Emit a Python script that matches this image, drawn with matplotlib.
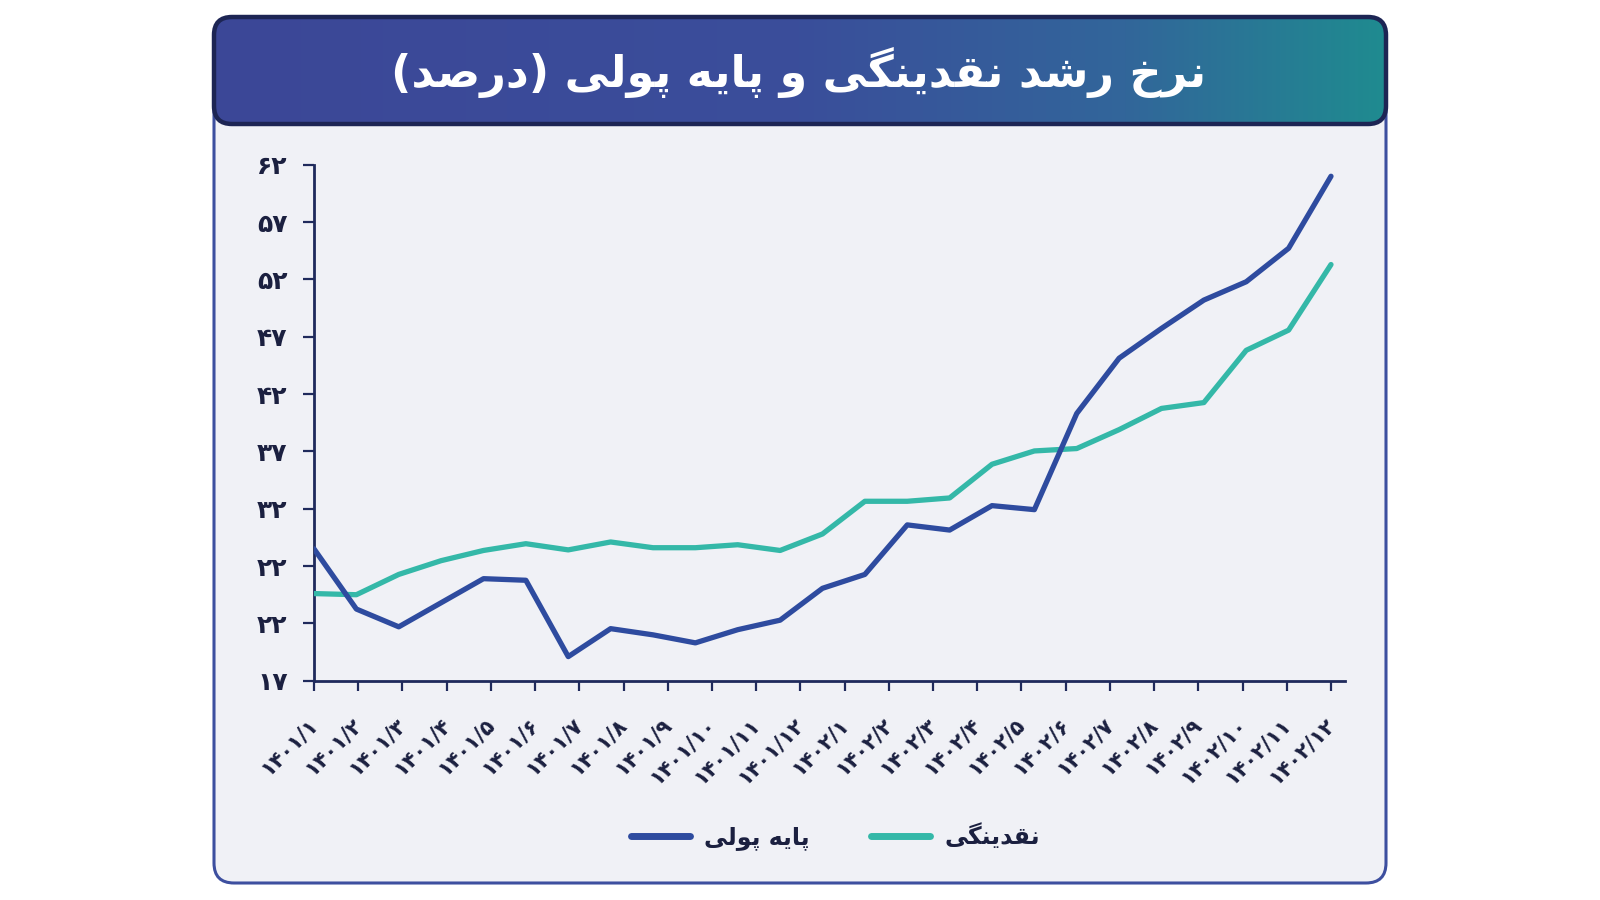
import matplotlib
matplotlib.use("Agg")
import matplotlib.pyplot as plt
import numpy as np
from matplotlib.patches import FancyBboxPatch
from matplotlib.lines import Line2D
from matplotlib.colors import LinearSegmentedColormap
from matplotlib.transforms import ScaledTranslation

# ---------------- data ----------------
title_text = "نرخ رشد نقدینگی و پایه پولی (درصد)"
series_names = ["پایه پولی", "نقدینگی"]

month_labels = [
    "۱۴۰۱/۱", "۱۴۰۱/۲", "۱۴۰۱/۳", "۱۴۰۱/۴", "۱۴۰۱/۵", "۱۴۰۱/۶",
    "۱۴۰۱/۷", "۱۴۰۱/۸", "۱۴۰۱/۹", "۱۴۰۱/۱۰", "۱۴۰۱/۱۱", "۱۴۰۱/۱۲",
    "۱۴۰۲/۱", "۱۴۰۲/۲", "۱۴۰۲/۳", "۱۴۰۲/۴", "۱۴۰۲/۵", "۱۴۰۲/۶",
    "۱۴۰۲/۷", "۱۴۰۲/۸", "۱۴۰۲/۹", "۱۴۰۲/۱۰", "۱۴۰۲/۱۱", "۱۴۰۲/۱۲",
]

money_base = [28.5, 23.25, 21.7, 23.8, 25.9, 25.76, 19.1, 21.54, 21.0, 20.3,
              21.45, 22.28, 25.06, 26.27, 30.59, 30.14, 32.27, 31.92, 40.31,
              45.13, 47.73, 50.2, 51.8, 54.72, 61.0]
liquidity = [24.6, 24.5, 26.27, 27.47, 28.36, 28.95, 28.41, 29.1, 28.6, 28.6,
             28.86, 28.36, 29.8, 32.65, 32.65, 32.94, 35.88, 37.04, 37.25,
             38.9, 40.75, 41.26, 45.82, 47.58, 53.3]

y_ticks = [17, 22, 27, 32, 37, 42, 47, 52, 57, 62]
y_tick_labels = ["۱۷", "۲۲", "۲۲", "۳۲", "۳۷", "۴۲", "۴۷", "۵۲", "۵۷", "۶۲"]

# ---------------- minimal Persian shaping ----------------
FORMS = {
    "ا": ("\uFE8D", "\uFE8E"), "د": ("\uFEA9", "\uFEAA"), "ر": ("\uFEAD", "\uFEAE"),
    "و": ("\uFEED", "\uFEEE"),
    "ب": ("\uFE8F", "\uFE90", "\uFE91", "\uFE92"),
    "پ": ("\uFB56", "\uFB57", "\uFB58", "\uFB59"),
    "ت": ("\uFE95", "\uFE96", "\uFE97", "\uFE98"),
    "خ": ("\uFEA5", "\uFEA6", "\uFEA7", "\uFEA8"),
    "ش": ("\uFEB5", "\uFEB6", "\uFEB7", "\uFEB8"),
    "ص": ("\uFEB9", "\uFEBA", "\uFEBB", "\uFEBC"),
    "ق": ("\uFED5", "\uFED6", "\uFED7", "\uFED8"),
    "گ": ("\uFB92", "\uFB93", "\uFB94", "\uFB95"),
    "ل": ("\uFEDD", "\uFEDE", "\uFEDF", "\uFEE0"),
    "م": ("\uFEE1", "\uFEE2", "\uFEE3", "\uFEE4"),
    "ن": ("\uFEE5", "\uFEE6", "\uFEE7", "\uFEE8"),
    "ه": ("\uFEE9", "\uFEEA", "\uFEEB", "\uFEEC"),
    "ی": ("\uFBFC", "\uFBFD", "\uFBFE", "\uFBFF"),
}


def shape(text):
    out = []
    n = len(text)
    for i, c in enumerate(text):
        if c not in FORMS:
            out.append(c)
            continue
        f = FORMS[c]
        prev = text[i - 1] if i > 0 else None
        nxt = text[i + 1] if i + 1 < n else None
        jp = prev in FORMS and len(FORMS[prev]) == 4
        jn = nxt in FORMS and len(f) == 4
        if len(f) == 2:
            out.append(f[1] if jp else f[0])
        elif jp and jn:
            out.append(f[3])
        elif jp:
            out.append(f[1])
        elif jn:
            out.append(f[2])
        else:
            out.append(f[0])
    vis = "".join(reversed(out))
    return vis.translate(str.maketrans({"(": ")", ")": "("}))


plt.rcParams["font.family"] = ["DejaVu Sans"]

W, H = 1600, 900
fig = plt.figure(figsize=(16, 9), dpi=100)
fig.patch.set_facecolor("white")

# ---------------- background card ----------------
bg = fig.add_axes([0, 0, 1, 1])
bg.set_xlim(0, W)
bg.set_ylim(H, 0)
bg.axis("off")

card = FancyBboxPatch((214, 17), 1172, 866,
                      boxstyle="round,pad=0,rounding_size=20",
                      facecolor="#f0f1f6", edgecolor="#3d4f9f", lw=2.2)
bg.add_patch(card)

tb = FancyBboxPatch((214, 17), 1172, 107,
                    boxstyle="round,pad=0,rounding_size=18",
                    facecolor="none", edgecolor="#1d2554", lw=3.2, zorder=3)
bg.add_patch(tb)
cmap = LinearSegmentedColormap.from_list(
    "tg", [(0, "#3c4797"), (0.5, "#3a4e9b"), (0.78, "#32669a"), (1, "#1f8b90")])
grad = np.linspace(0, 1, 512)[None, :]
im = bg.imshow(grad, cmap=cmap, extent=(214, 1386, 124, 17), aspect="auto", zorder=2)
im.set_clip_path(tb)
bg.text(799, 72, shape(title_text), color="white", fontsize=32, fontweight="bold",
        ha="center", va="center", zorder=4)

# ---------------- main chart ----------------
left, right, top, bottom = 314, 1345, 164.8, 680.7
ax = fig.add_axes([left / W, 1 - bottom / H, (right - left) / W, (bottom - top) / H])
ax.set_facecolor("none")

x = np.arange(len(money_base))
ax.plot(x, liquidity, color="#34b8a8", lw=3.8, solid_capstyle="round",
        solid_joinstyle="round", zorder=3)
ax.plot(x, money_base, color="#2e4b9f", lw=3.8, solid_capstyle="round",
        solid_joinstyle="round", zorder=4)

ax.set_xlim(0, (right - left) / ((1331 - 314) / 24))
ax.set_ylim(17, 62)

navy = "#1f2a5c"
for s in ["top", "right"]:
    ax.spines[s].set_visible(False)
for s in ["left", "bottom"]:
    ax.spines[s].set_color(navy)
    ax.spines[s].set_linewidth(2)

ax.set_yticks(y_ticks)
ax.set_yticklabels(y_tick_labels, fontsize=18, fontweight="bold", color="#1b2040")
ax.tick_params(axis="y", length=8, width=1.6, color=navy, pad=11)

xt = np.linspace(0, len(money_base) - 1, len(month_labels))
ax.set_xticks(xt)
ax.set_xticklabels(month_labels, rotation=45, ha="right", va="top",
                   rotation_mode="anchor", fontsize=15, fontweight="bold", color="#1b2040")
ax.tick_params(axis="x", length=7, width=1.6, color=navy, pad=17)
shift = ScaledTranslation(-0.07, 0, fig.dpi_scale_trans)
for lab in ax.get_xticklabels():
    lab.set_transform(lab.get_transform() + shift)

# ---------------- legend ----------------
handles = [Line2D([], [], color="#2e4b9f", lw=5, solid_capstyle="round"),
           Line2D([], [], color="#34b8a8", lw=5, solid_capstyle="round")]
fig.legend(handles, [shape(n) for n in series_names], ncol=2, loc="center",
           bbox_to_anchor=(835.5 / W, 1 - 837 / H), frameon=False,
           handlelength=2.5, handletextpad=0.6, columnspacing=2.6,
           prop={"weight": "bold", "size": 17}, labelcolor="#1b2040")

fig.savefig("out.png", dpi=100, facecolor="white")
